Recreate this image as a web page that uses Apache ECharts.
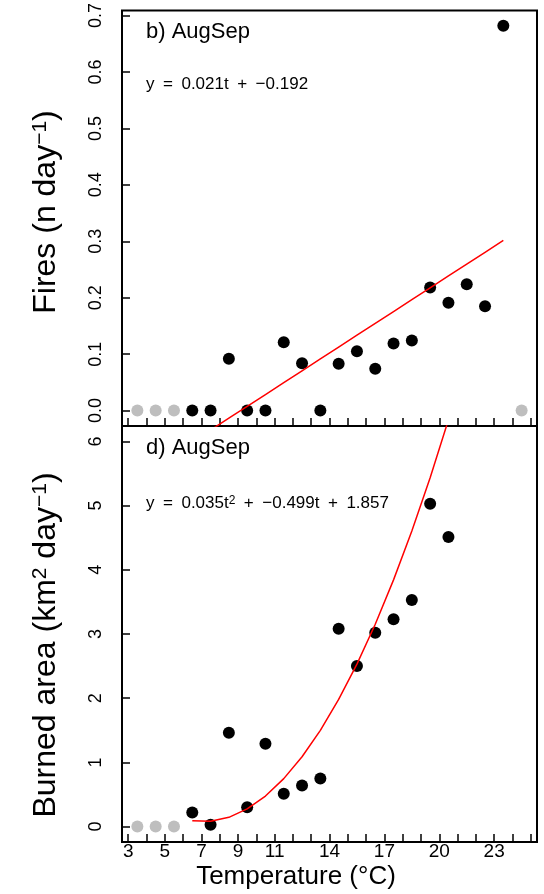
<!DOCTYPE html>
<html>
<head>
<meta charset="utf-8">
<script src="https://cdn.jsdelivr.net/npm/echarts@6/dist/echarts.min.js"></script>
<style>
  html, body { margin: 0; padding: 0; background: #fff; }
  #chart { width: 544px; height: 894px; }
</style>
</head>
<body>
<div id="chart"></div>
<script>
// Temperature axis: a tick at every degree, labels at selected degrees
const xTickValues = [3, 4, 5, 6, 7, 8, 9, 10, 11, 12, 13, 14, 15, 16, 17, 18, 19, 20, 21, 22, 23, 24, 25];
const xTickLabels = [3, 5, 7, 9, 11, 14, 17, 20, 23];
const firesTicks = [0, 0.1, 0.2, 0.3, 0.4, 0.5, 0.6, 0.7];
const areaTicks = [0, 1, 2, 3, 4, 5, 6];

// Fires per day by temperature bin (bins used in the fit)
const firesTemp = [6.5, 7.5, 8.5, 9.5, 10.5, 11.5, 12.5, 13.5, 14.5, 15.5, 16.5, 17.5, 18.5, 19.5, 20.5, 21.5, 22.5, 23.5];
const firesRate = [0, 0, 0.092, 0, 0, 0.121, 0.084, 0, 0.083, 0.105, 0.074, 0.119, 0.124, 0.218, 0.191, 0.224, 0.185, 0.682];
// Bins left out of the fit
const firesExclTemp = [3.5, 4.5, 5.5, 24.5];
const firesExclRate = [0, 0, 0, 0];

// Burned area per day by temperature bin
const areaTemp = [6.5, 7.5, 8.5, 9.5, 10.5, 11.5, 12.5, 13.5, 14.5, 15.5, 16.5, 17.5, 18.5, 19.5, 20.5];
const areaRate = [0.22, 0.03, 1.46, 0.30, 1.29, 0.51, 0.64, 0.75, 3.08, 2.50, 3.02, 3.23, 3.53, 5.03, 4.51];
const areaExclTemp = [3.5, 4.5, 5.5];
const areaExclRate = [0, 0, 0];

// Fitted models
const firesFit = [0.021, -0.192];          // slope, intercept
const areaFit = [0.035, -0.499, 1.857];    // t^2, t, constant

const FONT = '"Liberation Sans", Arial, Helvetica, sans-serif';
const SP = '\u2002';
const zip = (xs, ys) => xs.map((x, i) => [x, ys[i]]);

const firesLine = firesTemp.map(t => [t, firesFit[0] * t + firesFit[1]]);
const areaLine = areaTemp.map(t => [t, areaFit[0] * t * t + areaFit[1] * t + areaFit[2]]);

const tickStyle = { show: true, inside: true, length: 8, lineStyle: { color: '#000', width: 1.5 } };

function xAxis(gridIndex, withLabels) {
  return {
    gridIndex, type: 'value', min: 2.66, max: 25.34, position: 'bottom',
    axisLine: { show: false, onZero: false },
    axisTick: Object.assign({ customValues: xTickValues }, tickStyle),
    axisLabel: withLabels
      ? { show: true, customValues: xTickLabels, color: '#000', fontSize: 19, fontFamily: FONT, margin: 0 }
      : { show: false },
    splitLine: { show: false }
  };
}

function yAxis(gridIndex, min, max, ticks, fmt) {
  return {
    gridIndex, type: 'value', min, max, position: 'left',
    axisLine: { show: false, onZero: false },
    axisTick: Object.assign({ customValues: ticks }, tickStyle),
    axisLabel: {
      show: true, customValues: ticks, rotate: 90, color: '#000',
      fontSize: 18, fontFamily: FONT, margin: 17, formatter: fmt
    },
    splitLine: { show: false }
  };
}

const pointStyle = color => ({ color, opacity: 1, borderWidth: 0 });

const chart = echarts.init(document.getElementById('chart'), null, { renderer: 'canvas' });

chart.setOption({
  animation: false,
  backgroundColor: '#fff',
  grid: [
    { left: 122, top: 10, width: 415, height: 416, show: true, borderColor: '#000', borderWidth: 2, backgroundColor: 'transparent' },
    { left: 122, top: 426, width: 415, height: 416, show: true, borderColor: '#000', borderWidth: 2, backgroundColor: 'transparent' }
  ],
  xAxis: [xAxis(0, false), xAxis(1, true)],
  yAxis: [
    yAxis(0, -0.0273, 0.7088, firesTicks, v => v.toFixed(1)),
    yAxis(1, -0.24, 6.24, areaTicks, v => String(Math.round(v)))
  ],
  series: [
    { type: 'scatter', xAxisIndex: 0, yAxisIndex: 0, data: zip(firesExclTemp, firesExclRate),
      symbolSize: 12, itemStyle: pointStyle('#bebebe') },
    { type: 'scatter', xAxisIndex: 0, yAxisIndex: 0, data: zip(firesTemp, firesRate),
      symbolSize: 12, itemStyle: pointStyle('#000') },
    { type: 'line', xAxisIndex: 0, yAxisIndex: 0, data: firesLine, showSymbol: false, clip: true,
      lineStyle: { color: '#ff0000', width: 1.5 }, z: 3 },
    { type: 'scatter', xAxisIndex: 1, yAxisIndex: 1, data: zip(areaExclTemp, areaExclRate),
      symbolSize: 12, itemStyle: pointStyle('#bebebe') },
    { type: 'scatter', xAxisIndex: 1, yAxisIndex: 1, data: zip(areaTemp, areaRate),
      symbolSize: 12, itemStyle: pointStyle('#000') },
    { type: 'line', xAxisIndex: 1, yAxisIndex: 1, data: areaLine, showSymbol: false, clip: true,
      lineStyle: { color: '#ff0000', width: 1.5 }, z: 3 }
  ],
  graphic: [
    { type: 'text', x: 146, y: 32, style: { text: 'b) AugSep', fill: '#000', fontSize: 22, fontFamily: FONT, verticalAlign: 'middle' } },
    { type: 'text', x: 146, y: 84, style: {
        text: 'y' + SP + '=' + SP + '0.021t' + SP + '+' + SP + '\u22120.192',
        fill: '#000', fontSize: 17, fontFamily: FONT, verticalAlign: 'middle' } },
    { type: 'text', x: 146, y: 448, style: { text: 'd) AugSep', fill: '#000', fontSize: 22, fontFamily: FONT, verticalAlign: 'middle' } },
    { type: 'text', x: 146, y: 503, style: {
        text: 'y' + SP + '=' + SP + '0.035t{sup|2}' + SP + '+' + SP + '\u22120.499t' + SP + '+' + SP + '1.857',
        fill: '#000', fontSize: 17, fontFamily: FONT, verticalAlign: 'middle',
        rich: { sup: { fontSize: 12, fontFamily: FONT, fill: '#000', verticalAlign: 'top', lineHeight: 10 } } } },
    { type: 'text', x: 46, y: 212, rotation: Math.PI / 2, style: {
        text: 'Fires (n day{sup|\u22121})', fill: '#000', fontSize: 32, fontFamily: FONT, align: 'center', verticalAlign: 'middle',
        rich: { sup: { fontSize: 21, fontFamily: FONT, fill: '#000', verticalAlign: 'top', lineHeight: 16 } } } },
    { type: 'text', x: 46, y: 645, rotation: Math.PI / 2, style: {
        text: 'Burned area (km{sup|2} day{sup|\u22121})', fill: '#000', fontSize: 32, fontFamily: FONT, align: 'center', verticalAlign: 'middle',
        rich: { sup: { fontSize: 21, fontFamily: FONT, fill: '#000', verticalAlign: 'top', lineHeight: 16 } } } },
    { type: 'text', x: 296, y: 877, style: { text: 'Temperature (\u00b0C)', fill: '#000', fontSize: 26, fontFamily: FONT, align: 'center', verticalAlign: 'middle' } }
  ]
});
</script>
</body>
</html>
